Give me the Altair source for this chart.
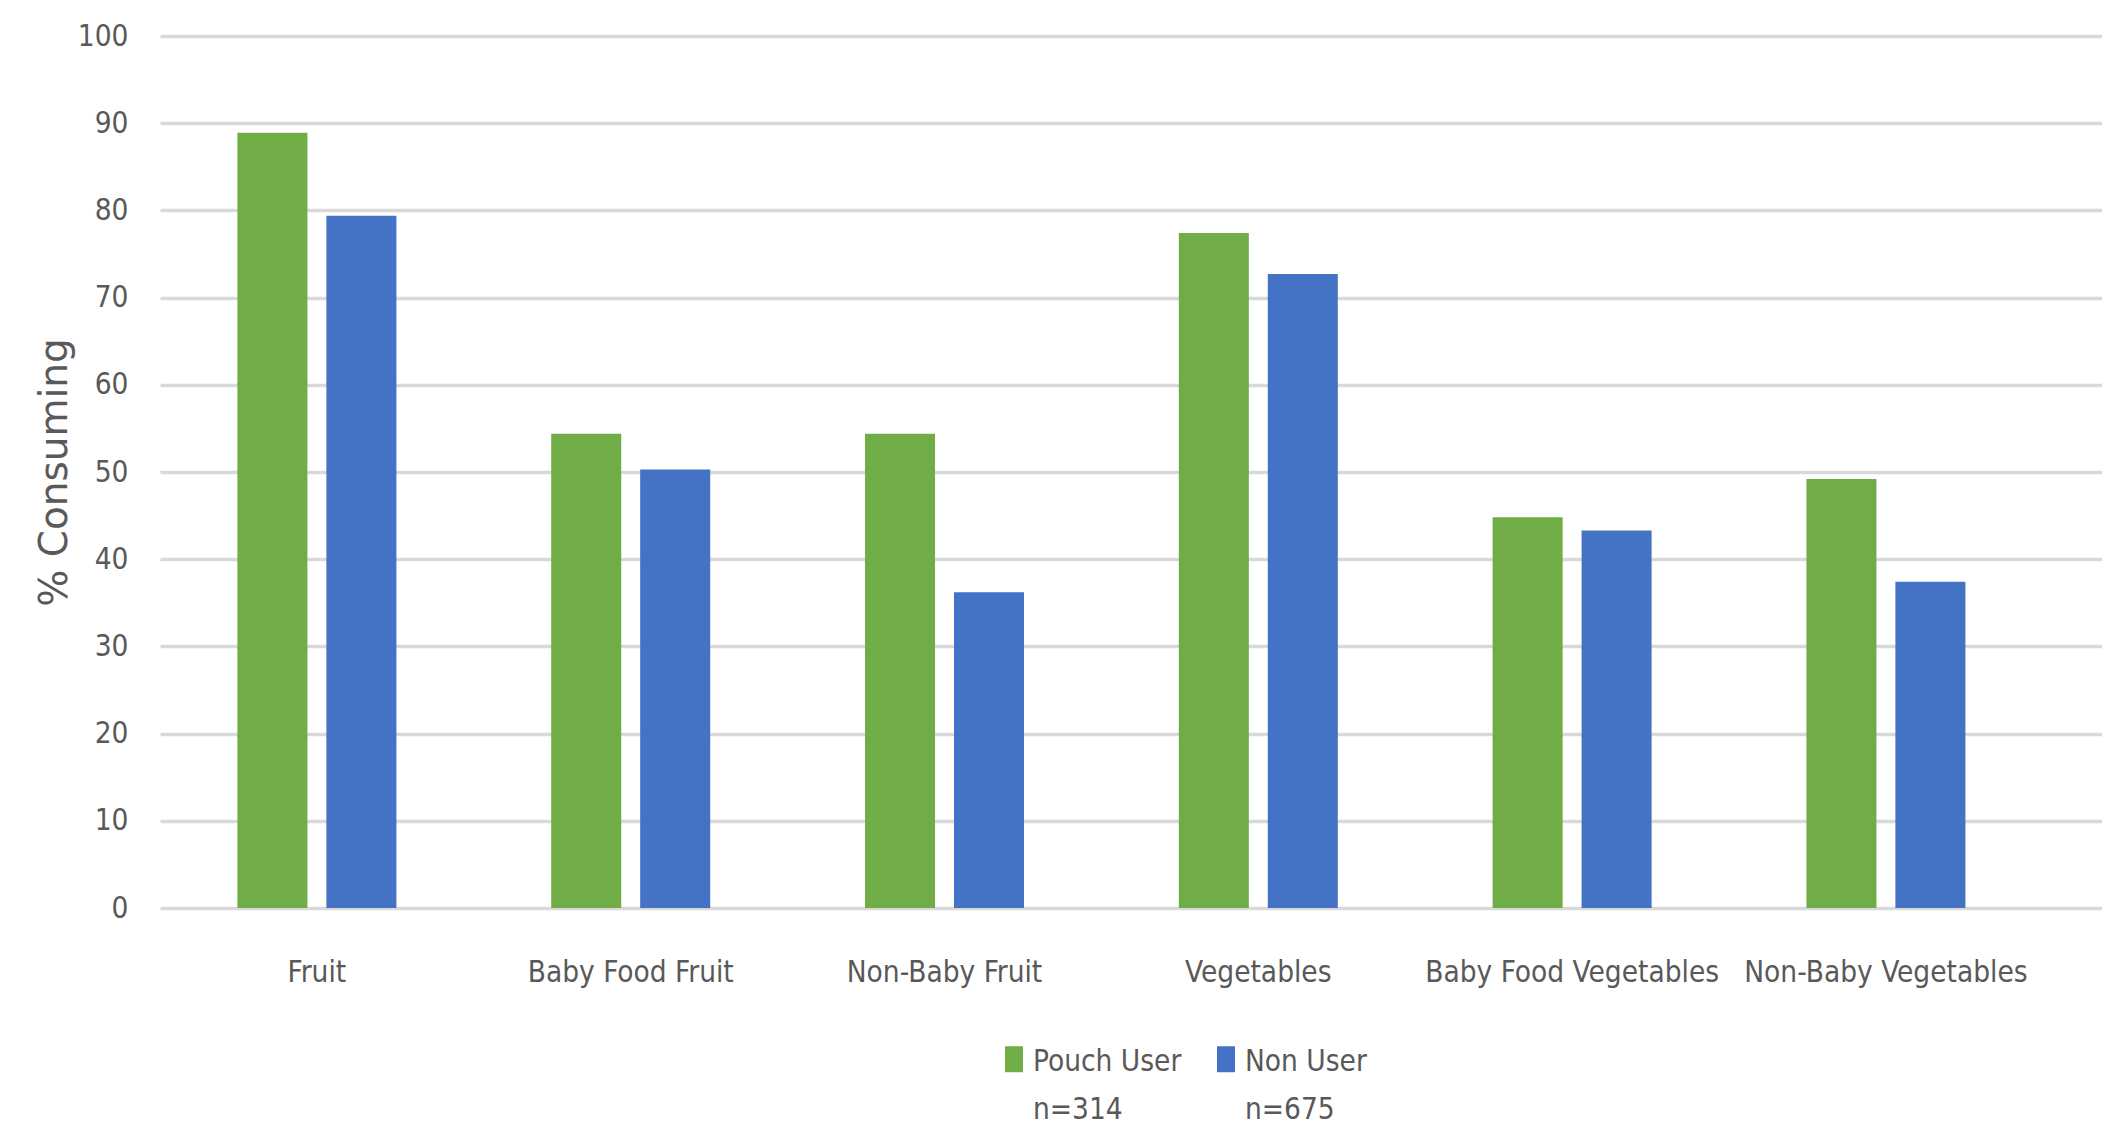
import altair as alt
import pandas as pd

categories = ["Fruit", "Baby Food Fruit", "Non-Baby Fruit", "Vegetables",
              "Baby Food Vegetables", "Non-Baby Vegetables"]
series = ["Pouch User", "Non User"]
sample_sizes = [314, 675]
pouch_user = [88.9, 54.4, 54.4, 77.4, 44.8, 49.2]
non_user = [79.4, 50.3, 36.2, 72.7, 43.3, 37.4]
y_ticks = [0, 10, 20, 30, 40, 50, 60, 70, 80, 90, 100]
colors = ["#70AD47", "#4472C4"]

rows = []
for c, p, n in zip(categories, pouch_user, non_user):
    rows.append({"category": c, "series": series[0], "value": p})
    rows.append({"category": c, "series": series[1], "value": n})
df = pd.DataFrame(rows)

label_expr = " : ".join(
    f"datum.label == '{s}' ? ['{s}', 'n={n}']" for s, n in zip(series, sample_sizes)
) + " : datum.label"

FONT = "DejaVu Sans Condensed, sans-serif"
FS = 29.5
TXT = "#595959"

chart = alt.Chart(df).mark_bar().encode(
    x=alt.X("category:N", sort=categories, title=None,
            scale=alt.Scale(paddingInner=0, paddingOuter=0.0943, align=0),
            axis=alt.Axis(labelAngle=0, ticks=False, tickSize=0, domain=False,
                          labelPadding=73, labelBaseline="alphabetic",
                          labelFont=FONT, labelFontSize=FS, labelColor=TXT,
                          labelLimit=600)),
    xOffset=alt.XOffset("series:N", sort=series,
                        scale=alt.Scale(paddingInner=0.213, paddingOuter=0.87)),
    y=alt.Y("value:Q", title="% Consuming",
            scale=alt.Scale(domain=[0, 100], nice=False),
            axis=alt.Axis(values=y_ticks, ticks=False, tickSize=0, domain=False,
                          grid=True, gridColor="#D9D9D9", gridWidth=3.5,
                          labelPadding=32, labelFont=FONT, labelFontSize=FS,
                          labelColor=TXT,
                          titleFont="DejaVu Sans", titleFontSize=39,
                          titleFontWeight="normal", titleColor=TXT,
                          titleX=-106, titleY=436, titleAngle=270,
                          titleAlign="center", titleBaseline="middle")),
    color=alt.Color("series:N", sort=series,
                    scale=alt.Scale(domain=series, range=colors),
                    legend=alt.Legend(
                        title=None, orient="none", direction="horizontal",
                        legendX=811, legendY=1009, padding=0,
                        columnPadding=1,
                        symbolType="M0.308,-0.962 H1 V0.038 H0.308 Z",
                        symbolSize=2704, symbolStrokeWidth=0,
                        labelOffset=10, labelBaseline="alphabetic",
                        labelFont=FONT, labelFontSize=FS, labelColor=TXT,
                        labelLimit=600, labelExpr=label_expr)),
).properties(
    width=1942, height=872,
    padding={"left": 160, "top": 36, "right": 0, "bottom": 218},
    autosize=alt.AutoSizeParams(type="none"),
).configure(
    background="white",
    view=alt.ViewConfig(strokeWidth=0),
    style={"guide-label": {"lineHeight": 48}},
)

chart.save("out.html", embed_options={"renderer": "svg", "actions": False})
